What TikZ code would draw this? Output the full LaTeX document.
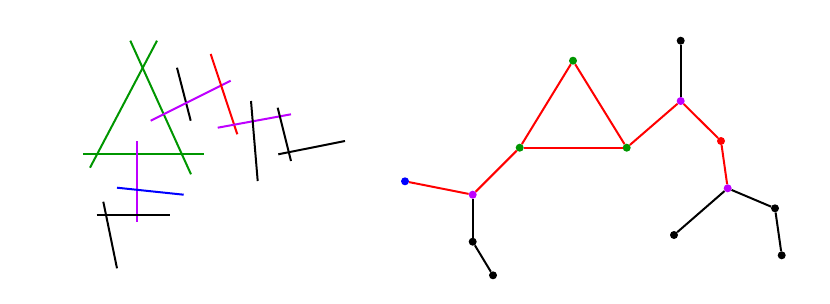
\documentclass[tikz,border=0pt]{standalone}
\usetikzlibrary{positioning}
\definecolor{lgreen}{RGB}{0,150,0}
\definecolor{lviolet}{RGB}{190,0,255}

\begin{document}
\begin{tikzpicture}[x=1pt, y=-1pt,
  seg/.style={line width=2pt},
  dot/.style={circle, fill=#1, inner sep=0pt, minimum size=8pt},
  link/.style={line width=2pt, draw=#1}
]
\useasboundingbox (0,0) rectangle (830,303);

% left: the lines
\draw[seg, lgreen] (130.3,40.7) -- (191,174.3);
\draw[seg, lgreen] (157,40.7) -- (90,167.7);
\draw[seg, lgreen] (83.3,154.3) -- (203.7,154.3);
\draw[seg, black] (177,67.7) -- (190.7,120.7);
\draw[seg, lviolet] (150.7,120.7) -- (230.7,80.7);
\draw[seg, red] (210.7,54) -- (237.3,134.3);
\draw[seg, lviolet] (217.7,127.7) -- (291,114.3);
\draw[seg, black] (251,101) -- (257.7,181);
\draw[seg, black] (277.7,107.7) -- (291,161);
\draw[seg, black] (278.3,154.3) -- (345,141);
\draw[seg, lviolet] (137,141) -- (137,221.7);
\draw[seg, blue] (117,187.7) -- (183.7,194.7);
\draw[seg, black] (96.7,214.7) -- (170.3,214.7);
\draw[seg, black] (103.3,201.7) -- (117,268.3);

% right: the graph
\node[dot=lgreen] (top) at (573,60.7) {};
\node[dot=lgreen] (gl) at (519.7,147.7) {};
\node[dot=lgreen] (gr) at (626.7,147.7) {};
\node[dot=lviolet] (vu) at (680.7,101) {};
\node[dot=black] (tu) at (680.7,40.7) {};
\node[dot=red] (rn) at (721,141) {};
\node[dot=lviolet] (vr) at (727.7,188.3) {};
\node[dot=black] (b1) at (775,208.3) {};
\node[dot=black] (b2) at (781.7,255.3) {};
\node[dot=black] (b3) at (674,235) {};
\node[dot=lviolet] (vl) at (472.7,194.7) {};
\node[dot=blue] (bl) at (405,181.3) {};
\node[dot=black] (b4) at (472.7,241.7) {};
\node[dot=black] (b5) at (493,275.3) {};

\draw[link=red] (bl) -- (vl);
\draw[link=red] (vl) -- (gl);
\draw[link=red] (gl) -- (top);
\draw[link=red] (top) -- (gr);
\draw[link=red] (gl) -- (gr);
\draw[link=red] (gr) -- (vu);
\draw[link=red] (vu) -- (rn);
\draw[link=red] (rn) -- (vr);
\draw[link=black] (vu) -- (tu);
\draw[link=black] (vl) -- (b4);
\draw[link=black] (b4) -- (b5);
\draw[link=black] (vr) -- (b1);
\draw[link=black] (b1) -- (b2);
\draw[link=black] (vr) -- (b3);
\end{tikzpicture}
\end{document}
